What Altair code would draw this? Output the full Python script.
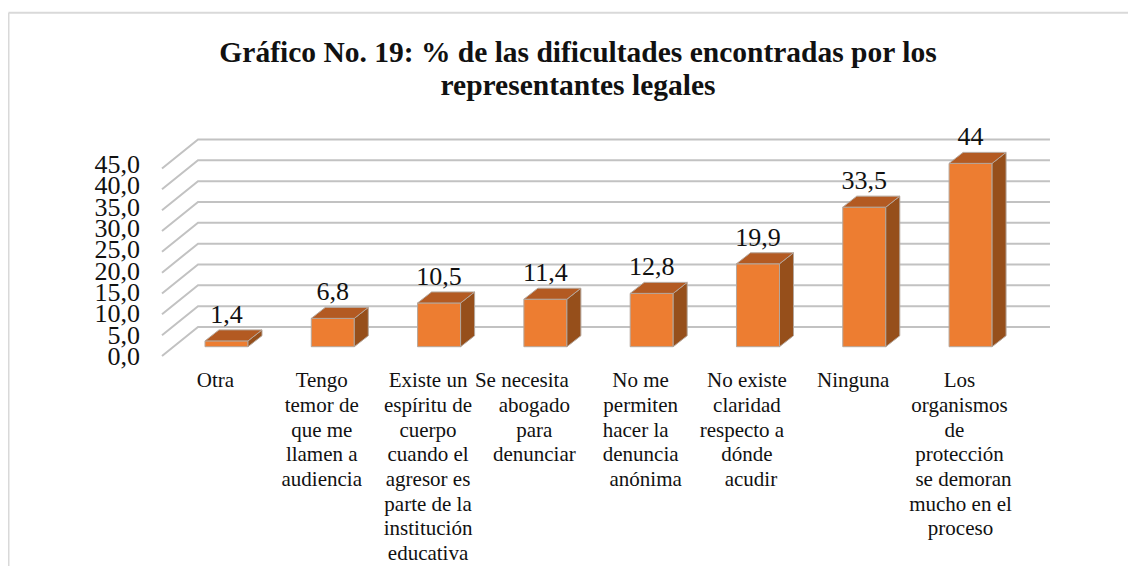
import altair as alt
import pandas as pd

categories = [["Otra"],
              ["Tengo", "temor de", "que me", "llamen a", "audiencia"],
              ["Existe un", "espíritu de", "cuerpo", "cuando el", "agresor es", "parte de la", "institución", "educativa"],
              ["Se necesita", "abogado", "para", "denunciar"],
              ["No me", "permiten", "hacer la", "denuncia", "anónima"],
              ["No existe", "claridad", "respecto a", "dónde", "acudir"],
              ["Ninguna"],
              ["Los", "organismos", "de", "protección", "se demoran", "mucho en el", "proceso"]]
values = [1.4, 6.8, 10.5, 11.4, 12.8, 19.9, 33.5, 44]
ticks = [0, 5, 10, 15, 20, 25, 30, 35, 40, 45]
title_lines = ["Gráfico No. 19: % de las dificultades encontradas por los",
               "representantes legales"]

SERIF = "Liberation Serif"
HALF = 0.2023      # half bar width, in category slots
DX = 0.1317        # bar depth, slots
DY = 2.64          # bar depth, value units
BASE = 2.23        # bars stand this far above the front edge of the wall
WALL_X0, WALL_X1, WALL_X2 = -0.6068, -0.268, 7.747
WALL_DY = 6.96
LABEL_SHIFT = 0.104
SLOT_PX = 106.3
UNIT_PX = 4.1667
LINE_PX = 24.7
# a few label lines sit off-centre in the original: (category, line) -> px
LINE_NUDGE = {(3, 0): -12.5, (4, 2): -5, (4, 4): 5, (5, 2): -5, (5, 4): 4,
              (7, 2): -5, (7, 4): 4, (7, 5): 1, (7, 6): 1}

xs = alt.Scale(domain=[-0.6068, 8.481], nice=False, zero=False)
ys = alt.Scale(domain=[-50.4, 59.04], nice=False, zero=False)
X = lambda f: alt.X(f, type="quantitative", scale=xs, axis=None)
Y = lambda f: alt.Y(f, type="quantitative", scale=ys, axis=None)

# gridlines on the wall
grid = pd.DataFrame([dict(t=t, k=k, x=x, y=t + dy)
                     for t in ticks
                     for k, (x, dy) in enumerate([(WALL_X0, 0), (WALL_X1, WALL_DY), (WALL_X2, WALL_DY)])])
grid_layer = alt.Chart(grid).mark_line(stroke="#c2c2c2", strokeWidth=2).encode(
    x=X("x"), y=Y("y"), detail="t:N", order="k:Q")

# value axis labels (spaced slightly wider than the wall, as in the original)
axis_df = pd.DataFrame({"t": ticks})
axis_df["lab"] = [f"{t:.1f}".replace(".", ",") for t in ticks]
axis_df["y"] = axis_df.t * 1.024 - 2.16
axis_layer = alt.Chart(axis_df).mark_text(font=SERIF, fontSize=26, color="#111111", align="right",
                                          baseline="alphabetic").encode(
    x=alt.value(-22), y=Y("y"), text="lab:N")

bars = pd.DataFrame({"i": range(len(values)), "v": values})
bars["xl"] = bars.i - HALF
bars["xr"] = bars.i + HALF
bars["y0"] = BASE
bars["y1"] = bars.v + BASE
bars["lab"] = [str(v).replace(".", ",") for v in values]
bars["lab_y"] = bars.y1 + DY + 1.7

STROKE = "#b5a79c"
front = alt.Chart(bars).mark_rect(fill="#ED7D31", stroke=STROKE, strokeWidth=1).encode(
    x=X("xl"), x2="xr", y=Y("y0"), y2="y1")

side_rows, top_rows = [], []
for i, v in enumerate(values):
    xr = i + HALF
    xl = i - HALF
    side_rows += [dict(i=i, x=xr, lo=BASE, hi=BASE + v),
                  dict(i=i, x=xr + DX, lo=BASE + DY, hi=BASE + v + DY)]
    top_rows += [dict(i=i, y=BASE + v, a=xl, b=xr),
                 dict(i=i, y=BASE + v + DY, a=xl + DX, b=xr + DX)]
side = alt.Chart(pd.DataFrame(side_rows)).mark_area(fill="#964F1B", stroke=STROKE, strokeWidth=1).encode(
    x=X("x"), y=Y("lo"), y2="hi", detail="i:N")
top = alt.Chart(pd.DataFrame(top_rows)).mark_area(orient="horizontal", fill="#B35A22", stroke=STROKE, strokeWidth=1).encode(
    y=Y("y"), x=X("a"), x2="b", detail="i:N")

val_labels = alt.Chart(bars).mark_text(font=SERIF, fontSize=26, color="#111111", baseline="alphabetic").encode(
    x=X("i"), y=Y("lab_y"), text="lab:N")

cat_rows = [dict(x=i - LABEL_SHIFT + LINE_NUDGE.get((i, k), 0) / SLOT_PX,
                 y=-3.4 - k * LINE_PX / UNIT_PX, t=line)
            for i, lines in enumerate(categories) for k, line in enumerate(lines)]
cat_labels = alt.Chart(pd.DataFrame(cat_rows)).mark_text(font=SERIF, fontSize=21, color="#111111", baseline="top").encode(
    x=X("x"), y=Y("y"), text="t:N")

frame_df = pd.DataFrame({"a": [0]})
top_border = alt.Chart(frame_df).mark_rule(stroke="#d9d9d9", strokeWidth=2).encode(
    x=alt.value(-153.5), x2=alt.value(966), y=alt.value(-97.3))
left_border = alt.Chart(frame_df).mark_rule(stroke="#d9d9d9", strokeWidth=2).encode(
    x=alt.value(-153.5), y=alt.value(-97.3), y2=alt.value(456))
title_df = pd.DataFrame({"t": ["\n".join(title_lines)]})
title_layer = alt.Chart(title_df).mark_text(font=SERIF, fontSize=29.5, fontWeight="bold", color="#111111",
                                            baseline="alphabetic", lineBreak="\n", lineHeight=33).encode(
    x=alt.value(416), y=alt.value(-48), text="t:N")

chart = alt.layer(top_border, left_border, title_layer, grid_layer, axis_layer, front, side, top,
                  val_labels, cat_labels).properties(
    width=966, height=456,
    padding={"left": 154, "top": 102, "right": 0, "bottom": 0},
    autosize=alt.AutoSizeParams(type="none"),
    background="white",
).configure_view(stroke=None)

chart.save("out.html", embed_options={"renderer": "svg", "actions": False})
